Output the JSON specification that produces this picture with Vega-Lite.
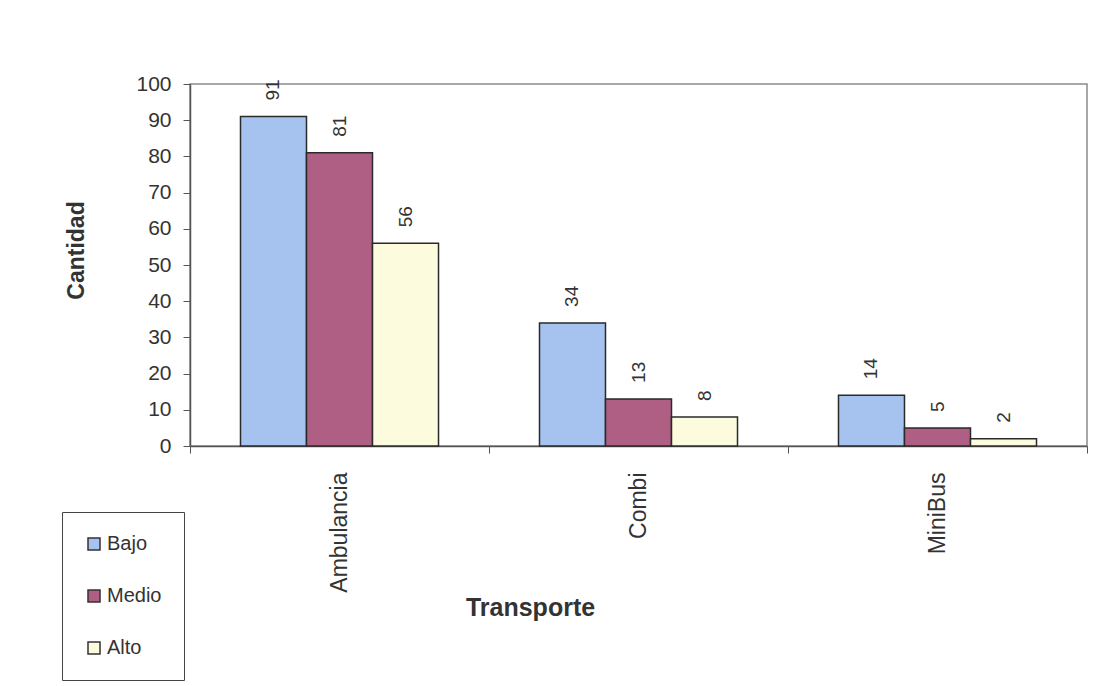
{
  "$schema": "https://vega.github.io/schema/vega-lite/v6.json",
  "width": 897,
  "height": 362,
  "autosize": {"type": "none"},
  "padding": {"left": 190, "top": 84, "right": 21, "bottom": 240},
  "background": "white",
  "config": {
    "font": "Liberation Sans",
    "view": {"stroke": "#8a8a8a", "strokeWidth": 1.5},
    "axis": {"grid": false, "labelFont": "Liberation Sans", "titleFont": "Liberation Sans", "labelColor": "#333", "titleColor": "#333", "domainColor": "#555", "tickColor": "#555"}
  },
  "data": {
    "values": [
      {"Transporte": "Ambulancia", "Nivel": "Bajo", "Cantidad": 91},
      {"Transporte": "Ambulancia", "Nivel": "Medio", "Cantidad": 81},
      {"Transporte": "Ambulancia", "Nivel": "Alto", "Cantidad": 56},
      {"Transporte": "Combi", "Nivel": "Bajo", "Cantidad": 34},
      {"Transporte": "Combi", "Nivel": "Medio", "Cantidad": 13},
      {"Transporte": "Combi", "Nivel": "Alto", "Cantidad": 8},
      {"Transporte": "MiniBus", "Nivel": "Bajo", "Cantidad": 14},
      {"Transporte": "MiniBus", "Nivel": "Medio", "Cantidad": 5},
      {"Transporte": "MiniBus", "Nivel": "Alto", "Cantidad": 2}
    ]
  },
  "encoding": {
    "x": {
      "field": "Transporte", "type": "nominal", "sort": ["Ambulancia", "Combi", "MiniBus"],
      "scale": {"paddingInner": 0, "paddingOuter": 0},
      "axis": {
        "title": "Transporte", "titleFontSize": 25, "titleFontWeight": "bold",
        "titleX": 340, "titleY": 169, "titleBaseline": "alphabetic", "titleAlign": "center",
        "labelAngle": -90, "labelAlign": "right", "labelBaseline": "middle", "labelFontSize": 23,
        "labelPadding": 19, "tickSize": 7, "tickBand": "extent", "tickExtra": true, "domainWidth": 1.5
      }
    },
    "xOffset": {"field": "Nivel", "type": "nominal", "sort": ["Bajo", "Medio", "Alto"], "scale": {"paddingInner": 0, "paddingOuter": 0.765}},
    "y": {
      "field": "Cantidad", "type": "quantitative",
      "scale": {"domain": [0, 100], "nice": false},
      "axis": {
        "values": [0, 10, 20, 30, 40, 50, 60, 70, 80, 90, 100],
        "title": "Cantidad", "titleFontSize": 23, "titleFontWeight": "bold",
        "titleX": -114, "titleY": 166, "titleBaseline": "middle", "titleAlign": "center", "titleAngle": -90,
        "labelFontSize": 21, "labelPadding": 12, "tickSize": 7, "domainWidth": 1.5
      }
    }
  },
  "layer": [
    {
      "mark": {"type": "bar", "stroke": "#2a2a2a", "strokeWidth": 1.5},
      "encoding": {
        "color": {
          "field": "Nivel", "type": "nominal",
          "scale": {"domain": ["Bajo", "Medio", "Alto"], "range": ["#a6c2ee", "#b05f84", "#fdfbdd"]},
          "legend": {
            "title": null, "orient": "none", "legendX": -128, "legendY": 428,
            "direction": "vertical",
            "strokeColor": "#444", "fillColor": "white", "padding": 22,
            "symbolType": "square", "symbolSize": 144, "symbolStrokeColor": "#333", "symbolStrokeWidth": 1.5,
            "labelFontSize": 20, "labelColor": "#333", "labelFont": "Liberation Sans", "labelOffset": 3,
            "rowPadding": 32
          }
        }
      }
    },
    {
      "mark": {"type": "text", "angle": 270, "align": "left", "baseline": "middle", "dx": 16, "fontSize": 19, "color": "#333", "font": "Liberation Sans"},
      "encoding": {"text": {"field": "Cantidad", "type": "quantitative"}}
    }
  ]
}
